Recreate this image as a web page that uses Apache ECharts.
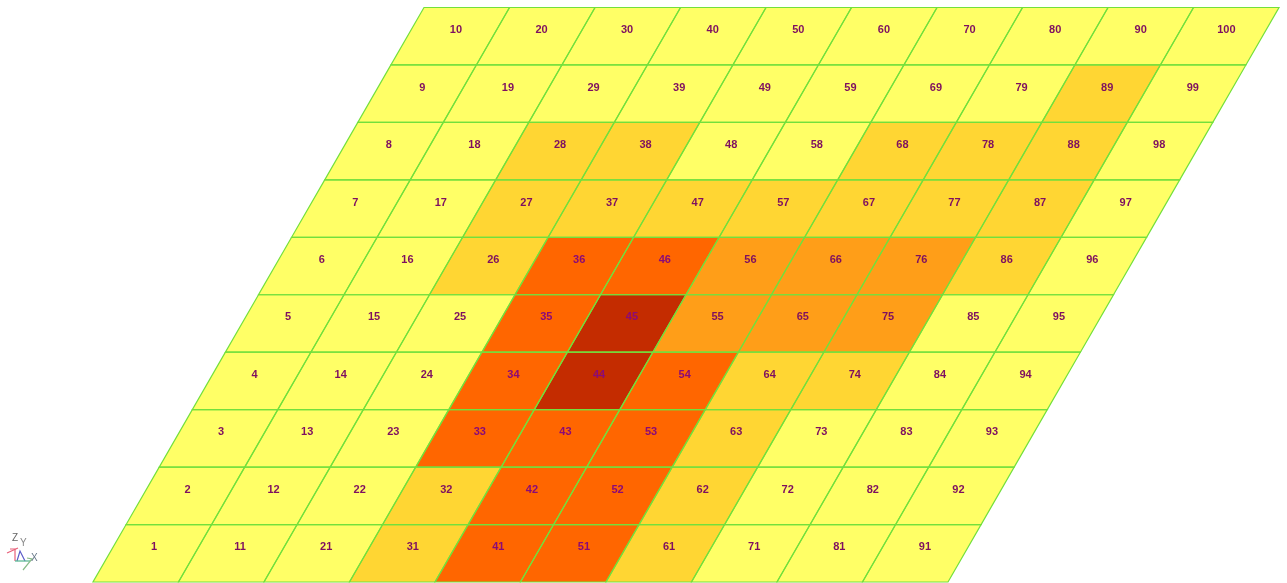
<!DOCTYPE html>
<html>
<head>
<meta charset="utf-8">
<style>html,body{margin:0;padding:0;background:#fff}#c{width:1287px;height:583px}</style>
<script src="https://cdn.jsdelivr.net/npm/echarts@6/dist/echarts.min.js"></script>
</head>
<body>
<div id="c"></div>
<script>
// Cell numbers and contour level of each cell, one list per column, bottom row first
const col1Ids = [1,2,3,4,5,6,7,8,9,10];
const col2Ids = [11,12,13,14,15,16,17,18,19,20];
const col3Ids = [21,22,23,24,25,26,27,28,29,30];
const col4Ids = [31,32,33,34,35,36,37,38,39,40];
const col5Ids = [41,42,43,44,45,46,47,48,49,50];
const col6Ids = [51,52,53,54,55,56,57,58,59,60];
const col7Ids = [61,62,63,64,65,66,67,68,69,70];
const col8Ids = [71,72,73,74,75,76,77,78,79,80];
const col9Ids = [81,82,83,84,85,86,87,88,89,90];
const col10Ids = [91,92,93,94,95,96,97,98,99,100];

const col1Levels = [0,0,0,0,0,0,0,0,0,0];
const col2Levels = [0,0,0,0,0,0,0,0,0,0];
const col3Levels = [0,0,0,0,0,1,1,1,0,0];
const col4Levels = [1,1,3,3,3,3,1,1,0,0];
const col5Levels = [3,3,3,4,4,3,1,0,0,0];
const col6Levels = [3,3,3,3,2,2,1,0,0,0];
const col7Levels = [1,1,1,1,2,2,1,1,0,0];
const col8Levels = [0,0,0,1,2,2,1,1,0,0];
const col9Levels = [0,0,0,0,0,1,1,1,1,0];
const col10Levels = [0,0,0,0,0,0,0,0,0,0];

const allIds = [col1Ids,col2Ids,col3Ids,col4Ids,col5Ids,col6Ids,col7Ids,col8Ids,col9Ids,col10Ids];
const allLevels = [col1Levels,col2Levels,col3Levels,col4Levels,col5Levels,col6Levels,col7Levels,col8Levels,col9Levels,col10Levels];

const levelColors = ['#FFFF66','#FFD633','#FF9E18','#FF6600','#C42C00'];
const lineColor = '#72E03C';
const shear = 33.1 / 85.5;            // sideways lean of the mesh per row, in column widths
const labelStep = [1.0012, 0.3924];   // label drift per column / per row
const labelStart = [0.713, 0.606];
const labelNudge = [0, 0.5, 1, 2, 2, 2, 1.5, 1, 0.5, 0.5]; // px, per column, fading out towards the upper rows

const cells = [];
allIds.forEach((ids, i) => ids.forEach((id, j) => cells.push([i, j, id, allLevels[i][j]])));

function corners(api) {
  const i = api.value(0), j = api.value(1);
  const p = (a, b) => api.coord([a + shear * b, b]);
  return [p(i, j), p(i + 1, j), p(i + 1, j + 1), p(i, j + 1)];
}

const chart = echarts.init(document.getElementById('c'), null, {renderer: 'canvas'});
chart.setOption({
  animation: false,
  backgroundColor: '#ffffff',
  grid: {left: 93, top: 7.5, width: 1186, height: 574.5},
  xAxis: {type: 'value', min: 0, max: 1186 / 85.5, show: false},
  yAxis: {type: 'value', min: 0, max: 10, show: false},
  graphic: [
    {type: 'polyline', silent: true, shape: {points: [[7,553],[18,548]]}, style: {stroke: '#E8607A', lineWidth: 1.2, fill: null}},
    {type: 'polyline', silent: true, shape: {points: [[15,561],[15,549],[10,549]]}, style: {stroke: '#E8607A', lineWidth: 1.2, fill: null}},
    {type: 'polyline', silent: true, shape: {points: [[17,561],[20,551],[25,561]]}, style: {stroke: '#5C5CC8', lineWidth: 1.2, fill: null}},
    {type: 'polyline', silent: true, shape: {points: [[15,561],[30,561]]}, style: {stroke: '#50B48C', lineWidth: 1.2, fill: null}},
    {type: 'polyline', silent: true, shape: {points: [[23,570],[32,559],[27,558]]}, style: {stroke: '#88BB88', lineWidth: 1.2, fill: null}},
    {type: 'text', silent: true, style: {x: 12, y: 533, text: 'Z', fill: '#666', font: '10px "Liberation Sans"'}},
    {type: 'text', silent: true, style: {x: 20, y: 538, text: 'Y', fill: '#888', font: '10px "Liberation Sans"'}},
    {type: 'text', silent: true, style: {x: 31, y: 553, text: 'X', fill: '#667788', font: '10px "Liberation Sans"'}}
  ],
  series: [
    {
      type: 'custom', coordinateSystem: 'cartesian2d', silent: true, data: cells, z: 2,
      encode: {x: 0, y: 1},
      renderItem: (params, api) => ({
        type: 'polygon',
        shape: {points: corners(api)},
        style: {fill: levelColors[api.value(3)], stroke: null}
      })
    },
    {
      type: 'custom', coordinateSystem: 'cartesian2d', silent: true, data: cells, z: 3,
      encode: {x: 0, y: 1},
      renderItem: (params, api) => ({
        type: 'polygon',
        shape: {points: corners(api)},
        style: {fill: 'none', stroke: lineColor, lineWidth: 1.2}
      })
    },
    {
      type: 'custom', coordinateSystem: 'cartesian2d', silent: true, data: cells, z: 4,
      encode: {x: 0, y: 1},
      renderItem: (params, api) => {
        const i = api.value(0), j = api.value(1);
        const c = api.coord([labelStart[0] + labelStep[0] * i + labelStep[1] * j, labelStart[1] + j]);
        const fade = Math.max(0, Math.min(1, (6 - j) / 3));
        return {
          type: 'text',
          style: {
            x: c[0] + labelNudge[i] * fade, y: c[1], text: String(api.value(2)),
            fill: api.value(3) >= 3 ? '#8A0A78' : '#7E1060',
            font: 'bold 11px "Liberation Sans"',
            align: 'center', verticalAlign: 'middle'
          }
        };
      }
    }
  ]
});
</script>
</body>
</html>
